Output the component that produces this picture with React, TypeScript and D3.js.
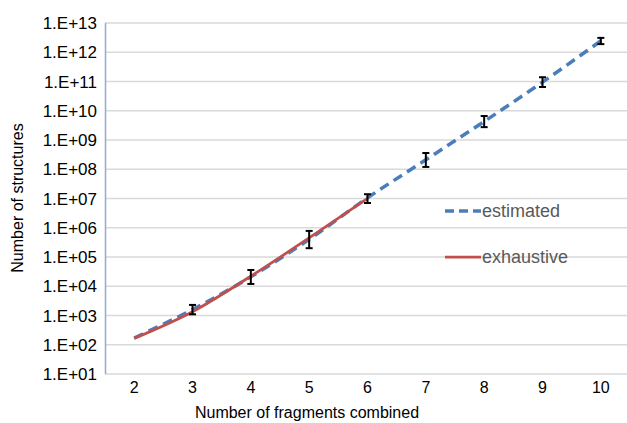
import * as d3 from 'd3'
import React, { useEffect, useRef } from 'react'

const fragments = ['2', '3', '4', '5', '6', '7', '8', '9', '10']
const estimated = [170, 1.6e3, 2.1e4, 4.0e5, 1.05e7, 2.1e8, 4.3e9, 9.5e10, 2.45e12]
// no visible error bar at 2 fragments
const errLow = [170, 1.1e3, 1.2e4, 2.0e5, 7.0e6, 1.2e8, 2.75e9, 6.5e10, 1.9e12]
const errHigh = [170, 2.3e3, 3.6e4, 7.8e5, 1.4e7, 3.6e8, 6.6e9, 1.4e11, 3.1e12]
const exhaustive = [165, 1.35e3, 2.2e4, 4.5e5, 1.0e7]
const yTicks = [1e1, 1e2, 1e3, 1e4, 1e5, 1e6, 1e7, 1e8, 1e9, 1e10, 1e11, 1e12, 1e13]

const W = 627
const H = 423
const FONT = '"Liberation Sans", Arial, sans-serif'

const App = (): JSX.Element => {
    const ref = useRef<SVGSVGElement>(null)

    useEffect(() => {
        const svg = d3.select(ref.current)
        svg.selectAll('*').remove()

        const x = d3.scaleBand().domain(fragments).range([105, 630])
        const cx = (d: string) => (x(d) as number) + x.bandwidth() / 2
        const y = d3.scaleLog().domain([1e1, 1e13]).range([374, 23])

        // gridlines
        svg.append('g')
            .selectAll('line')
            .data(yTicks)
            .enter()
            .append('line')
            .attr('x1', 105)
            .attr('x2', 630)
            .attr('y1', (d) => y(d))
            .attr('y2', (d) => y(d))
            .style('stroke', '#d9d9d9')
            .style('stroke-width', 1.5)

        // vertical axis line
        svg.append('line')
            .attr('x1', 105.5)
            .attr('x2', 105.5)
            .attr('y1', y(1e13))
            .attr('y2', y(1e1))
            .style('stroke', '#8faadc')
            .style('stroke-width', 1.5)

        // y tick labels
        svg.append('g')
            .selectAll('text')
            .data(yTicks)
            .enter()
            .append('text')
            .attr('x', 97)
            .attr('y', (d) => y(d) + 6)
            .attr('text-anchor', 'end')
            .style('font-family', FONT)
            .style('font-size', '17px')
            .style('fill', '#000')
            .text((d) => `1.E+${String(Math.round(Math.log10(d))).padStart(2, '0')}`)

        // x tick labels
        svg.append('g')
            .selectAll('text')
            .data(fragments)
            .enter()
            .append('text')
            .attr('x', (d) => cx(d))
            .attr('y', 393)
            .attr('text-anchor', 'middle')
            .style('font-family', FONT)
            .style('font-size', '16px')
            .text((d) => d)

        // axis titles
        svg.append('text')
            .attr('x', 307)
            .attr('y', 418)
            .attr('text-anchor', 'middle')
            .style('font-family', FONT)
            .style('font-size', '16px')
            .text('Number of fragments combined')

        svg.append('text')
            .attr('transform', 'translate(23,198) rotate(-90)')
            .attr('text-anchor', 'middle')
            .style('font-family', FONT)
            .style('font-size', '16px')
            .text('Number of structures')

        // estimated series (dashed)
        const lineEst = d3
            .line<number>()
            .x((d, i) => cx(fragments[i]))
            .y((d) => y(d))
            .curve(d3.curveMonotoneX)
        svg.append('path')
            .datum(estimated)
            .attr('d', lineEst)
            .style('fill', 'none')
            .style('stroke', '#4a7ebb')
            .style('stroke-width', 3.5)
            .style('stroke-dasharray', '10,6')

        // exhaustive series
        svg.append('path')
            .datum(exhaustive)
            .attr('d', lineEst)
            .style('fill', 'none')
            .style('stroke', '#c0504d')
            .style('stroke-width', 2.75)

        // error bars
        const ebData = fragments.filter((d, i) => errHigh[i] > errLow[i])
        const idx = (d: string) => fragments.indexOf(d)
        const eb = svg.append('g').selectAll('g').data(ebData).enter().append('g')
        eb.append('line')
            .attr('x1', (d) => cx(d))
            .attr('x2', (d) => cx(d))
            .attr('y1', (d) => y(errLow[idx(d)]))
            .attr('y2', (d) => y(errHigh[idx(d)]))
            .style('stroke', '#000')
            .style('stroke-width', 2)
        eb.append('line')
            .attr('x1', (d) => cx(d) - 3.5)
            .attr('x2', (d) => cx(d) + 3.5)
            .attr('y1', (d) => y(errLow[idx(d)]))
            .attr('y2', (d) => y(errLow[idx(d)]))
            .style('stroke', '#000')
            .style('stroke-width', 2)
        eb.append('line')
            .attr('x1', (d) => cx(d) - 3.5)
            .attr('x2', (d) => cx(d) + 3.5)
            .attr('y1', (d) => y(errHigh[idx(d)]))
            .attr('y2', (d) => y(errHigh[idx(d)]))
            .style('stroke', '#000')
            .style('stroke-width', 2)

        // legend
        const legend = [
            { name: 'estimated', color: '#4a7ebb', dash: '9,5', width: 3.5, y: 211 },
            { name: 'exhaustive', color: '#c0504d', dash: null, width: 2.75, y: 257 },
        ]
        const lg = svg.append('g').selectAll('g').data(legend).enter().append('g')
        lg.append('line')
            .attr('x1', 445)
            .attr('x2', 481)
            .attr('y1', (d) => d.y)
            .attr('y2', (d) => d.y)
            .style('stroke', (d) => d.color)
            .style('stroke-width', (d) => d.width)
            .style('stroke-dasharray', (d) => d.dash)
        lg.append('text')
            .attr('x', 482)
            .attr('y', (d) => d.y + 6)
            .style('font-family', FONT)
            .style('font-size', '18px')
            .style('fill', '#595959')
            .text((d) => d.name)
    }, [])

    return (
        <svg
            ref={ref}
            width={W}
            height={H}
            style={{ position: 'absolute', left: 0, top: 0, background: '#fff' }}
        />
    )
}

export default App
